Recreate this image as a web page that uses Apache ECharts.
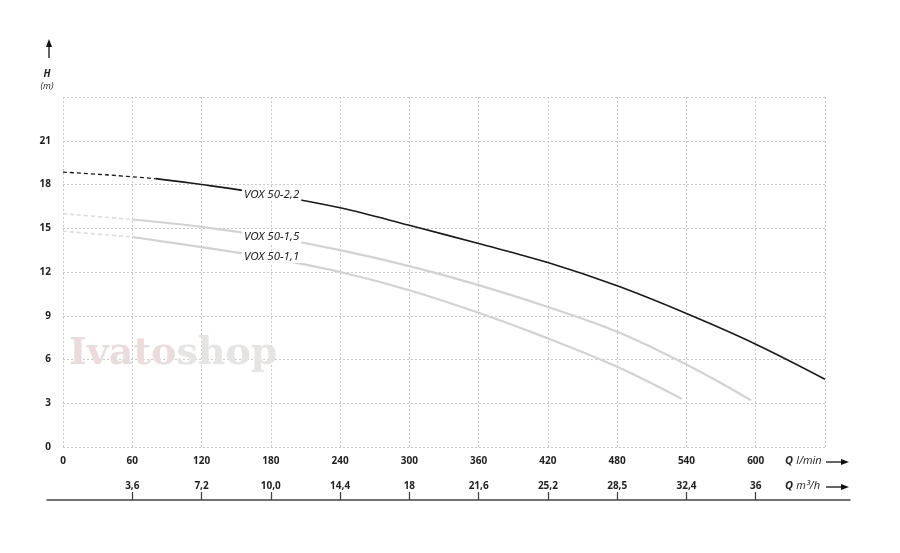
<!DOCTYPE html>
<html>
<head>
<meta charset="utf-8">
<script src="https://cdn.jsdelivr.net/npm/echarts@6/dist/echarts.min.js"></script>
<style>html,body{margin:0;padding:0;background:#fff}#c{width:900px;height:553px}</style>
</head>
<body>
<div id="c"></div>
<script>
// ---- data ----
const qTicks = [0, 60, 120, 180, 240, 300, 360, 420, 480, 540, 600];
const m3hTicks = [60, 120, 180, 240, 300, 360, 420, 480, 540, 600];
const m3hLabels = ['3,6', '7,2', '10,0', '14,4', '18', '21,6', '25,2', '28,5', '32,4', '36'];
const hTicks = [0, 3, 6, 9, 12, 15, 18, 21];

const q22 = [0, 40, 80, 120, 180, 240, 300, 360, 420, 480, 540, 600, 660];
const h22 = [18.85, 18.65, 18.4, 18.0, 17.3, 16.4, 15.2, 13.95, 12.65, 11.05, 9.15, 7.05, 4.65];
const q15 = [0, 60, 120, 180, 240, 300, 360, 420, 480, 540, 596];
const h15 = [16.0, 15.6, 15.1, 14.4, 13.5, 12.4, 11.1, 9.6, 7.9, 5.65, 3.2];
const q11 = [0, 60, 120, 180, 240, 300, 360, 420, 480, 536];
const h11 = [14.8, 14.4, 13.7, 12.95, 12.0, 10.75, 9.2, 7.45, 5.5, 3.3];
const curveNames = ['VOX 50-2,2', 'VOX 50-1,5', 'VOX 50-1,1'];
const dashEnd = [80, 60, 60]; // flow where dashed part ends

// ---- layout ----
const G = {left: 63, right: 75, top: 97, bottom: 106};
const xMin = 0, xMax = 660;
const pxPerUnit = (900 - G.left - G.right) / (xMax - xMin);
const G2 = {left: 47, right: 50};

function split(q, h, end) {
  const all = q.map((v, i) => [v, h[i]]);
  return {
    dashed: all.filter(p => p[0] <= end),
    solid: all.filter(p => p[0] >= end)
  };
}
const curves = [[q22, h22], [q15, h15], [q11, h11]];
const colors = ['#1a1a1a', '#d2d2d2', '#d2d2d2'];
const widths = [1.6, 2.2, 2.2];
const series = [];
curves.forEach((c, i) => {
  const s = split(c[0], c[1], dashEnd[i]);
  series.push({
    name: curveNames[i], type: 'line', xAxisIndex: 0, yAxisIndex: 0,
    data: s.solid, smooth: 0.35, showSymbol: false,
    lineStyle: {color: colors[i], width: widths[i]}, z: 3 - i + 2
  });
  series.push({
    name: curveNames[i] + ' dashed', type: 'line', xAxisIndex: 0, yAxisIndex: 0,
    data: s.dashed, smooth: 0.35, showSymbol: false,
    lineStyle: {color: i === 0 ? '#1a1a1a' : '#dcdcdc', width: i === 0 ? 1.3 : 1.6, type: [4, 3]}, z: 3 - i + 2
  });
});

const gridStyle = {show: true, lineStyle: {color: '#c9c9c9', width: 1, type: [2, 2]}};
const labFont = {fontFamily: 'Open Sans', fontWeight: 'bold', fontSize: 10, color: '#222'};

const option = {
  animation: false,
  backgroundColor: '#fff',
  grid: [
    {left: G.left, right: G.right, top: G.top, bottom: G.bottom},
    {left: G2.left, right: G2.right, top: G.top, bottom: 53}
  ],
  xAxis: [
    {
      type: 'value', gridIndex: 0, min: xMin, max: xMax, interval: 60,
      axisLine: {show: false}, axisTick: {show: false},
      splitLine: gridStyle,
      axisLabel: Object.assign({margin: 9, formatter: v => (v <= 600 ? String(v) : '')}, labFont)
    },
    {
      type: 'value', gridIndex: 1,
      min: xMin - (G.left - G2.left) / pxPerUnit,
      max: xMax + ((900 - G2.right) - (900 - G.right)) / pxPerUnit,
      axisLine: {show: true, lineStyle: {color: '#444', width: 1.5}},
      axisTick: {show: true, inside: true, length: 8, customValues: m3hTicks, lineStyle: {color: '#444', width: 1.3}},
      splitLine: {show: false},
      axisLabel: Object.assign({inside: true, margin: 9, customValues: m3hTicks,
        formatter: v => { const k = m3hTicks.indexOf(v); return k >= 0 ? m3hLabels[k] : ''; }}, labFont)
    }
  ],
  yAxis: [
    {
      type: 'value', gridIndex: 0, min: 0, max: 24, interval: 3,
      axisLine: {show: false}, axisTick: {show: false},
      splitLine: gridStyle,
      axisLabel: Object.assign({margin: 12, formatter: v => (hTicks.indexOf(v) >= 0 ? String(v) : '')}, labFont)
    },
    {type: 'value', gridIndex: 1, min: 0, max: 1, show: false}
  ],
  series: series,
  graphic: [
    // watermark
    {type: 'text', left: 69, top: 335, z: 1, silent: true,
      style: {text: '{a|Ivato}{b|shop}', rich: {
        a: {fontFamily: 'DejaVu Serif', fontWeight: 'bold', fontSize: 38, fill: '#eadcdc'},
        b: {fontFamily: 'DejaVu Serif', fontWeight: 'bold', fontSize: 38, fill: '#e6e3e3'}}}},
    // curve labels
    {type: 'text', left: 242, top: 189, z: 50, style: {text: curveNames[0], font: 'italic 11.5px "Noto Sans"', fill: '#222', backgroundColor: '#fff', padding: [0, 2]}},
    {type: 'text', left: 242, top: 231, z: 50, style: {text: curveNames[1], font: 'italic 11.5px "Noto Sans"', fill: '#222', backgroundColor: '#fff', padding: [0, 2]}},
    {type: 'text', left: 242, top: 251, z: 50, style: {text: curveNames[2], font: 'italic 11.5px "Noto Sans"', fill: '#222', backgroundColor: '#fff', padding: [0, 2]}},
    // y axis arrow + title
    {type: 'line', shape: {x1: 49, y1: 46, x2: 49, y2: 58}, style: {stroke: '#111', lineWidth: 1.3}},
    {type: 'polygon', shape: {points: [[49, 39], [46, 47], [52, 47]]}, style: {fill: '#111'}},
    {type: 'text', x: 47, y: 74, style: {text: 'H', font: 'italic bold 10px "Open Sans"', fill: '#222', align: 'center', verticalAlign: 'middle'}},
    {type: 'text', x: 47, y: 86, style: {text: '(m)', font: 'italic 9px "Open Sans"', fill: '#222', align: 'center', verticalAlign: 'middle'}},
    // x axis titles with arrows
    {type: 'text', x: 785, y: 461, style: {text: '{q|Q} {u|l/min}', verticalAlign: 'middle', rich: {
      q: {font: 'italic bold 11px "Open Sans"', fill: '#222'}, u: {font: 'italic 11px "Open Sans"', fill: '#222'}}}},
    {type: 'line', shape: {x1: 826, y1: 462, x2: 843, y2: 462}, style: {stroke: '#111', lineWidth: 1.3}},
    {type: 'polygon', shape: {points: [[849, 462], [841, 459], [841, 465]]}, style: {fill: '#111'}},
    {type: 'text', x: 785, y: 486, style: {text: '{q|Q} {u|m³/h}', verticalAlign: 'middle', rich: {
      q: {font: 'italic bold 11px "Open Sans"', fill: '#222'}, u: {font: 'italic 11px "Open Sans"', fill: '#222'}}}},
    {type: 'line', shape: {x1: 826, y1: 487, x2: 843, y2: 487}, style: {stroke: '#111', lineWidth: 1.3}},
    {type: 'polygon', shape: {points: [[849, 487], [841, 484], [841, 490]]}, style: {fill: '#111'}}
  ]
};
const chart = echarts.init(document.getElementById('c'), null, {renderer: 'canvas'});
chart.setOption(option);
</script>
</body>
</html>
